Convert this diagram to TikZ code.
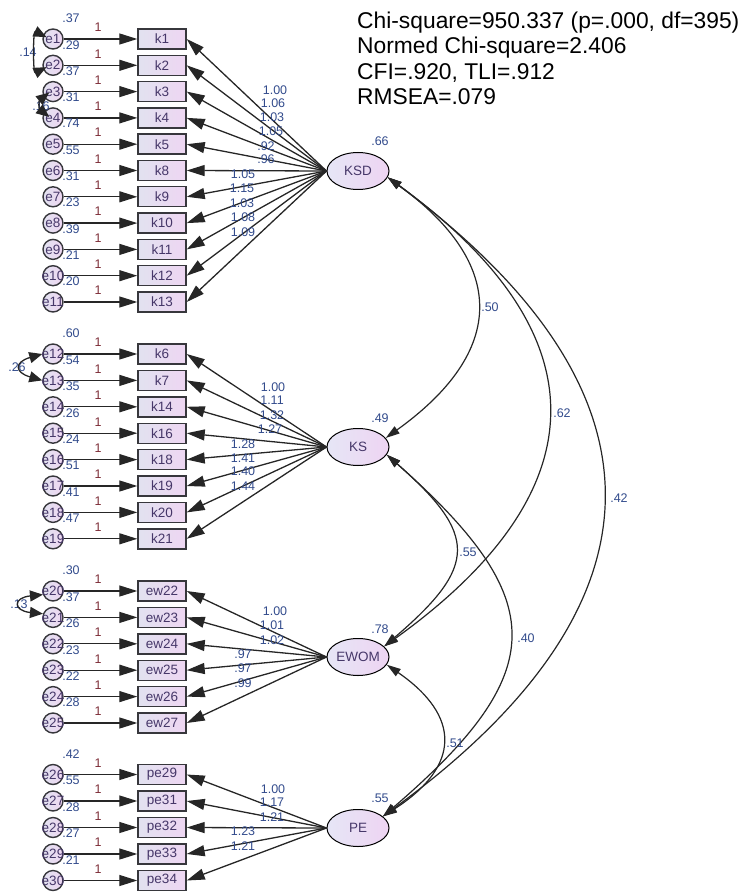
\documentclass[tikz,border=0pt]{standalone}
\usepackage{fontspec}
\setmainfont{Liberation Sans}
\usetikzlibrary{arrows.meta,shapes.geometric}
\definecolor{numcol}{RGB}{50,75,140}
\definecolor{onecol}{RGB}{125,45,55}
\definecolor{nodetxt}{RGB}{70,55,105}
\definecolor{boxl}{RGB}{226,226,240}
\definecolor{boxr}{RGB}{238,214,242}
\definecolor{elll}{RGB}{230,230,246}
\definecolor{ellr}{RGB}{238,212,242}
\definecolor{edgec}{RGB}{55,55,60}
\newcommand{\obsgroup}[3]{%
  \foreach \k/\e/\v [count=\i from 0] in {#3} {%
    \pgfmathsetmacro\yy{#1+#2*\i}
    \node[obs] (\k) at (162,\yy) {\k};
    \node[err, label={[errlab]center:\e}] (\e) at (53,\yy) {};
    \draw[arr] (\e) -- (\k);
    \node[one] (one-\k) at (98,\yy-11.5) {1};
    \node[num] (var-\e) at (71,\yy-20.5) {\v};
  }%
}
\begin{document}
\begin{tikzpicture}[x=1pt,y=-1pt,
  obs/.style={draw=edgec, line width=1.4pt, left color=boxl, right color=boxr,
    minimum width=48pt, minimum height=20pt, inner sep=0pt, text=nodetxt,
    font=\fontsize{13.5}{15}\selectfont},
  err/.style={circle, draw=edgec, line width=1.4pt, left color=boxl, right color=boxr,
    minimum size=20pt, inner sep=0pt},
  errlab/.style={text=nodetxt, font=\fontsize{13.5}{16}\selectfont, inner sep=0pt},
  lat/.style={ellipse, draw=black, line width=1pt, left color=elll, right color=ellr,
    minimum width=62pt, minimum height=37pt, inner sep=0pt, text=nodetxt,
    font=\fontsize{13.5}{15}\selectfont},
  num/.style={text=numcol, font=\fontsize{12.5}{14}\selectfont, inner sep=0pt},
  one/.style={text=onecol, font=\fontsize{12.5}{14}\selectfont, inner sep=0pt},
  stat/.style={text=black, font=\fontsize{22.8}{26}\selectfont, inner sep=0pt, anchor=base west},
  arr/.style={draw=black!85, line width=1.3pt, -{Triangle[length=18pt,width=11pt]}},
  cov/.style={draw=black!85, line width=1.2pt,
    {Triangle[length=14pt,width=8.5pt]}-{Triangle[length=14pt,width=8.5pt]}},
  ecov/.style={draw=black!85, line width=1.3pt,
    {Triangle[length=13pt,width=11pt]}-{Triangle[length=13pt,width=11pt]}}
]
\useasboundingbox (0,0) rectangle (745,893);

% observed groups
\obsgroup{39}{26.3}{k1/e1/.37, k2/e2/.29, k3/e3/.37, k4/e4/.31, k5/e5/.74, k8/e6/.55, k9/e7/.31, k10/e8/.23, k11/e9/.39, k12/e10/.21, k13/e11/.20}
\obsgroup{354}{26.4}{k6/e12/.60, k7/e13/.54, k14/e14/.35, k16/e15/.26, k18/e16/.24, k19/e17/.51, k20/e18/.41, k21/e19/.47}
\obsgroup{591}{26.4}{ew22/e20/.30, ew23/e21/.37, ew24/e22/.26, ew25/e23/.23, ew26/e24/.22, ew27/e25/.28}
\obsgroup{774.5}{26.5}{pe29/e26/.42, pe31/e27/.55, pe32/e28/.28, pe33/e29/.27, pe34/e30/.21}

% latent variables
\node[lat] (KSD) at (358,171) {KSD};
\node[lat] (KS) at (358,447) {KS};
\node[lat] (EWOM) at (358,657) {EWOM};
\node[lat] (PE) at (358,828) {PE};
\node[num] (vKSD) at (380,141) {.66};
\node[num] (vKS) at (380,418) {.49};
\node[num] (vEWOM) at (380,629) {.78};
\node[num] (vPE) at (380,798) {.55};

% loadings
\foreach \k/\l/\lx/\ly in {k1/1.00/275/90, k2/1.06/273/103, k3/1.03/272/117, k4/1.05/271/131,
  k5/.92/266/146, k8/.96/266/159, k9/1.05/243/174, k10/1.15/242/188, k11/1.03/242/203,
  k12/1.08/243/217, k13/1.09/243/232} {
  \draw[arr] (KSD.west) -- (\k.east);
  \node[num] (l-\k) at (\lx,\ly) {\l};
}
\foreach \k/\l/\lx/\ly in {k6/1.00/273/387, k7/1.11/272/400, k14/1.32/272/415, k16/1.27/270/429,
  k18/1.28/243/444, k19/1.41/243/458, k20/1.40/243/471, k21/1.44/243/486} {
  \draw[arr] (KS.west) -- (\k.east);
  \node[num] (l-\k) at (\lx,\ly) {\l};
}
\foreach \k/\l/\lx/\ly in {ew22/1.00/275/611, ew23/1.01/272/625, ew24/1.02/272/640,
  ew25/.97/243/654, ew26/.97/243/668, ew27/.99/243/683} {
  \draw[arr] (EWOM.west) -- (\k.east);
  \node[num] (l-\k) at (\lx,\ly) {\l};
}
\foreach \k/\l/\lx/\ly in {pe29/1.00/273/789, pe31/1.17/272/802, pe32/1.21/272/817,
  pe33/1.23/243/831, pe34/1.21/243/846} {
  \draw[arr] (PE.west) -- (\k.east);
  \node[num] (l-\k) at (\lx,\ly) {\l};
}

% covariances between latent variables
\draw[cov] (KSD.-12) .. controls (507,264) and (507,351) .. (KS.18);
\draw[cov] (KSD.-12) .. controls (602,333) and (602,490) .. (EWOM.22);
\draw[cov] (KSD.-12) .. controls (675,390) and (675,603) .. (PE.25);
\draw[cov] (KS.-15) .. controls (478,535) and (478,566) .. (EWOM.22);
\draw[cov] (KS.-15) .. controls (551,600) and (551,672) .. (PE.25);
\draw[cov] (EWOM.-15) .. controls (461,716) and (461,766) .. (PE.25);
\node[num] (c1) at (490,307) {.50};
\node[num] (c2) at (562,413) {.62};
\node[num] (c3) at (619,498) {.42};
\node[num] (c4) at (468,552) {.55};
\node[num] (c5) at (526,638) {.40};
\node[num] (c6) at (455,743) {.51};

% error covariances
\node[num] (c12) at (28,52) {.14};
\draw[ecov, shorten <=-4pt, shorten >=-4pt] (e1.160) .. controls +(-10,-5) and +(-10,5) .. (e2.200);
\node[num] (c34) at (41,106) {.16};
\draw[ecov, shorten <=-7pt, shorten >=-7pt] (e3.210) .. controls +(-5,4) and +(-5,-4) .. (e4.150);
\node[num] (c1213) at (17,367) {.26};
\draw[ecov] (e12.west) .. controls +(-28,8) and +(-28,-8) .. (e13.west);
\node[num] (c2021) at (19,604) {.13};
\draw[ecov] (e20.200) .. controls +(-30,3) and +(-30,-3) .. (e21.160);

% fit statistics
\node[stat] (s1) at (357,29) {Chi-square=950.337 (p=.000, df=395)};
\node[stat] (s2) at (357,54) {Normed Chi-square=2.406};
\node[stat] (s3) at (357,80) {CFI=.920, TLI=.912};
\node[stat] (s4) at (357,105) {RMSEA=.079};
\end{tikzpicture}
\end{document}
